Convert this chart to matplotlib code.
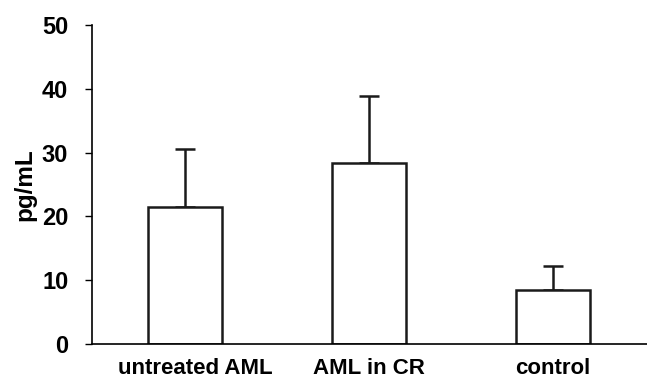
import matplotlib
matplotlib.use("Agg")
import matplotlib.pyplot as plt
import matplotlib.transforms as mtransforms

groups = ["untreated AML", "AML in CR", "control"]
means = [21.4, 28.3, 8.4]
errors = [9.2, 10.5, 3.9]

plt.rcParams["font.family"] = ["Liberation Sans", "DejaVu Sans"]
plt.rcParams["font.weight"] = "bold"

fig = plt.figure(figsize=(6.47, 3.82), dpi=100)
ax = fig.add_axes([0.142, 0.0995, 0.858, 0.835])

x = range(len(groups))
ax.bar(x, means, width=0.4, color="white", edgecolor="#1a1a1a", linewidth=1.8, zorder=2)
ax.errorbar(x, means, yerr=[[0] * len(errors), errors], fmt="none",
            ecolor="#1a1a1a", elinewidth=1.8, capsize=7, capthick=1.8, zorder=1)

ax.set_ylim(0, 50)
ax.set_xlim(-0.505, 2.51)
ax.set_yticks([0, 10, 20, 30, 40, 50])
ax.set_xticks(list(x))
ax.set_xticklabels(groups, fontsize=16, fontweight="bold")
ax.tick_params(axis="x", length=0, pad=10)
ax.tick_params(axis="y", length=5, width=1, labelsize=17, pad=12)
for lab in ax.get_yticklabels():
    lab.set_fontweight("bold")
ax.set_ylabel("pg/mL", fontsize=17.5, fontweight="bold", labelpad=4)

# first label sits a little right of its bar in the original
first = ax.get_xticklabels()[0]
first.set_transform(first.get_transform() +
                    mtransforms.ScaledTranslation(0.1, 0, fig.dpi_scale_trans))

ax.spines["top"].set_visible(False)
ax.spines["right"].set_visible(False)
ax.spines["left"].set_linewidth(1.2)
ax.spines["bottom"].set_linewidth(1.2)

fig.savefig("out.png", dpi=100)
